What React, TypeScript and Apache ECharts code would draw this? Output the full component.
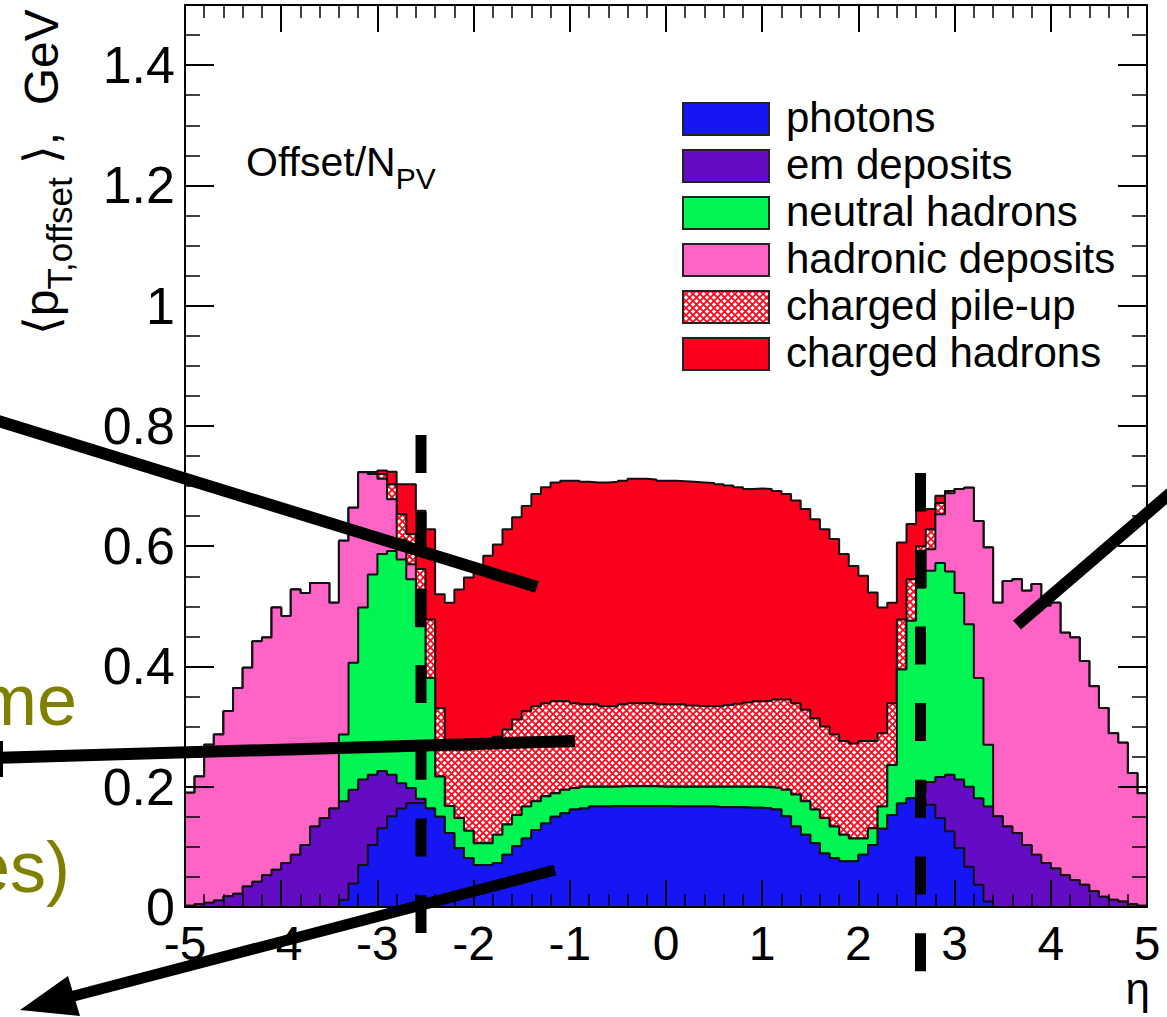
import React, { useEffect, useRef } from 'react';
import * as echarts from 'echarts';

// Histogram binning in eta
const ETA_MIN = -5;
const ETA_MAX = 5;
const BIN_WIDTH = 0.1;
const N_BINS = 100;

// Mean offset pT per pile-up vertex, split by particle type (GeV), 100 bins in eta
const photons = [
  0, 0, 0, 0, 0, 0, 0, 0, 0, 0,
  0, 0, 0, 0, 0, 0, 0.012, 0.039, 0.07, 0.103,
  0.131, 0.151, 0.164, 0.173, 0.173, 0.164, 0.15, 0.123, 0.098, 0.081,
  0.07, 0.07, 0.073, 0.087, 0.101, 0.114, 0.128, 0.139, 0.15, 0.156,
  0.162, 0.164, 0.167, 0.167, 0.168, 0.168, 0.168, 0.168, 0.168, 0.168,
  0.167, 0.167, 0.167, 0.167, 0.167, 0.166, 0.166, 0.166, 0.165, 0.165,
  0.164, 0.162, 0.151, 0.134, 0.12, 0.106, 0.089, 0.081, 0.076, 0.076,
  0.087, 0.103, 0.13, 0.153, 0.172, 0.181, 0.18, 0.17, 0.148, 0.126,
  0.098, 0.067, 0.037, 0.009, 0, 0, 0, 0, 0, 0,
  0, 0, 0, 0, 0, 0, 0, 0, 0, 0,
];

const emDeposits = [
  0.002, 0.005, 0.007, 0.011, 0.018, 0.022, 0.034, 0.042, 0.053, 0.062,
  0.073, 0.087, 0.103, 0.134, 0.148, 0.164, 0.164, 0.156, 0.142, 0.117,
  0.095, 0.069, 0.042, 0.025, 0.007, 0, 0, 0, 0, 0,
  0, 0, 0, 0, 0, 0, 0, 0, 0, 0,
  0, 0, 0, 0, 0, 0, 0, 0, 0, 0,
  0, 0, 0, 0, 0, 0, 0, 0, 0, 0,
  0, 0, 0, 0, 0, 0, 0, 0, 0, 0,
  0, 0, 0, 0, 0, 0, 0.01, 0.038, 0.068, 0.094,
  0.114, 0.133, 0.144, 0.158, 0.151, 0.134, 0.123, 0.103, 0.087, 0.073,
  0.064, 0.053, 0.045, 0.037, 0.026, 0.017, 0.012, 0.009, 0.005, 0.002,
];

const neutralHadrons = [
  0, 0, 0, 0, 0, 0, 0, 0, 0, 0,
  0, 0, 0, 0, 0, 0, 0.111, 0.211, 0.286, 0.333,
  0.361, 0.372, 0.372, 0.347, 0.287, 0.217, 0.067, 0.045, 0.05, 0.046,
  0.036, 0.036, 0.047, 0.05, 0.052, 0.053, 0.048, 0.045, 0.039, 0.039,
  0.036, 0.036, 0.033, 0.033, 0.032, 0.033, 0.033, 0.033, 0.033, 0.032,
  0.033, 0.033, 0.033, 0.033, 0.033, 0.034, 0.034, 0.034, 0.035, 0.035,
  0.035, 0.036, 0.044, 0.053, 0.056, 0.056, 0.059, 0.053, 0.044, 0.038,
  0.027, 0.028, 0.037, 0.083, 0.223, 0.295, 0.341, 0.351, 0.356, 0.338,
  0.31, 0.27, 0.2, 0.103, 0, 0, 0, 0, 0, 0,
  0, 0, 0, 0, 0, 0, 0, 0, 0, 0,
];

const hadronicDeposits = [
  0.188, 0.212, 0.263, 0.276, 0.308, 0.342, 0.364, 0.4, 0.395, 0.436,
  0.411, 0.441, 0.419, 0.405, 0.391, 0.342, 0.322, 0.258, 0.225, 0.167,
  0.125, 0.086, 0.033, 0.025, 0.003, 0, 0, 0, 0, 0,
  0, 0, 0, 0, 0, 0, 0, 0, 0, 0,
  0, 0, 0, 0, 0, 0, 0, 0, 0, 0,
  0, 0, 0, 0, 0, 0, 0, 0, 0, 0,
  0, 0, 0, 0, 0, 0, 0, 0, 0, 0,
  0, 0, 0, 0, 0, 0, 0.004, 0.036, 0.081, 0.13,
  0.173, 0.227, 0.261, 0.328, 0.355, 0.408, 0.422, 0.423, 0.45, 0.428,
  0.442, 0.403, 0.403, 0.372, 0.341, 0.314, 0.277, 0.264, 0.218, 0.187,
];

const chargedPileUp = [
  0, 0, 0, 0, 0, 0, 0, 0, 0, 0,
  0, 0, 0, 0, 0, 0, 0, 0, 0, 0.002,
  0.008, 0.025, 0.042, 0.05, 0.092, 0.097, 0.114, 0.097, 0.114, 0.135,
  0.159, 0.166, 0.163, 0.158, 0.159, 0.159, 0.158, 0.155, 0.153, 0.147,
  0.141, 0.137, 0.137, 0.134, 0.134, 0.136, 0.138, 0.138, 0.138, 0.137,
  0.137, 0.137, 0.135, 0.134, 0.134, 0.134, 0.136, 0.138, 0.14, 0.142,
  0.144, 0.147, 0.15, 0.152, 0.152, 0.152, 0.152, 0.153, 0.156, 0.158,
  0.162, 0.145, 0.122, 0.103, 0.083, 0.069, 0.065, 0.033, 0.019, 0.004,
  0, 0, 0, 0, 0, 0, 0, 0, 0, 0,
  0, 0, 0, 0, 0, 0, 0, 0, 0, 0,
];

const chargedHadrons = [
  0, 0, 0, 0, 0, 0, 0, 0, 0, 0,
  0, 0, 0, 0, 0, 0, 0, 0, 0, 0.002,
  0.006, 0.021, 0.05, 0.083, 0.097, 0.15, 0.189, 0.241, 0.266, 0.286,
  0.299, 0.312, 0.32, 0.333, 0.336, 0.341, 0.353, 0.359, 0.364, 0.367,
  0.37, 0.37, 0.369, 0.372, 0.373, 0.372, 0.373, 0.373, 0.372, 0.372,
  0.372, 0.371, 0.372, 0.372, 0.371, 0.369, 0.365, 0.36, 0.355, 0.354,
  0.352, 0.347, 0.342, 0.337, 0.334, 0.331, 0.328, 0.325, 0.311, 0.295,
  0.275, 0.247, 0.209, 0.167, 0.128, 0.092, 0.059, 0.034, 0.012, 0,
  0, 0, 0, 0, 0, 0, 0, 0, 0, 0,
  0, 0, 0, 0, 0, 0, 0, 0, 0, 0,
];

// Stack order, bottom to top
const layerNames = [
  'photons',
  'em deposits',
  'neutral hadrons',
  'hadronic deposits',
  'charged pile-up',
  'charged hadrons',
];
const layerValues = [photons, emDeposits, neutralHadrons, hadronicDeposits, chargedPileUp, chargedHadrons];
const layerColors = ['#1616f4', '#640cc3', '#00f552', '#ff63c6', null, '#fa001c'];
const HATCH_INDEX = 4;

const yLabelMax = 1.4;

const FONT = '"Liberation Sans", Arial, Helvetica, "DejaVu Sans", sans-serif';
const CENTRAL = 0.3465; // distance from the alphabetic baseline to the central baseline, in em

// red cross-hatch on white, tiled
function makeHatch(): HTMLCanvasElement {
  const s = 7;
  const c = document.createElement('canvas');
  c.width = s;
  c.height = s;
  const g = c.getContext('2d')!;
  g.fillStyle = '#ffffff';
  g.fillRect(0, 0, s, s);
  g.strokeStyle = '#ff0a1e';
  g.lineWidth = 1.9;
  g.beginPath();
  g.moveTo(-1, -1);
  g.lineTo(s + 1, s + 1);
  g.moveTo(-1, s + 1);
  g.lineTo(s + 1, -1);
  g.stroke();
  return c;
}

function measure(text: string, size: number): number {
  const ctx = document.createElement('canvas').getContext('2d')!;
  ctx.font = `${size}px ${FONT}`;
  return ctx.measureText(text).width;
}

// A text piece placed by its alphabetic baseline
function baselineText(text: string, x: number, baseline: number, size: number, fill = '#000', align = 'left') {
  return {
    type: 'text',
    x,
    y: baseline - CENTRAL * size,
    z: 100,
    style: { text, fontSize: size, fontFamily: FONT, fill, align, verticalAlign: 'middle' },
  };
}

export default function App() {
  const ref = useRef<HTMLDivElement>(null);

  useEffect(() => {
    const el = ref.current;
    if (!el) return;
    const chart = echarts.init(el, null, { renderer: 'svg' });

    const hatch = makeHatch();
    const hatchFill: any = { image: hatch, repeat: 'repeat', imageWidth: 7, imageHeight: 7 };
    const fills = layerColors.map((c, i) => (i === HATCH_INDEX ? hatchFill : c));

    // bin edges; each bin value is held from its left edge to the next edge
    const edges = Array.from({ length: N_BINS + 1 }, (_, i) => (ETA_MIN + i * BIN_WIDTH).toFixed(1));

    const series = layerValues.map((vals, k) => ({
      type: 'line',
      name: layerNames[k],
      stack: 'offset',
      step: 'end',
      xAxisIndex: 0,
      yAxisIndex: 0,
      data: [...vals, vals[vals.length - 1]],
      symbol: 'none',
      showSymbol: false,
      silent: true,
      z: 12 - k,
      lineStyle: { color: '#111', width: 2 },
      areaStyle: { color: fills[k], opacity: 1 },
      emphasis: { disabled: true },
    }));

    const xAxisBase = {
      type: 'value',
      min: ETA_MIN,
      max: ETA_MAX,
      interval: 1,
      z: 30,
      axisLine: { show: true, onZero: false, lineStyle: { color: '#000', width: 2 } },
      axisTick: { show: true, inside: true, length: 27, lineStyle: { color: '#000', width: 2 } },
      minorTick: { show: true, splitNumber: 5, length: 13, lineStyle: { color: '#000', width: 1.5 } },
      splitLine: { show: false },
      minorSplitLine: { show: false },
    };

    const yMajor = (position: string, labels: boolean) => ({
      type: 'value',
      position,
      min: 0,
      max: 1.5,
      interval: 0.2,
      z: 30,
      axisLine: { show: true, onZero: false, lineStyle: { color: '#000', width: 2 } },
      axisTick: { show: true, inside: true, length: 29, lineStyle: { color: '#000', width: 2 } },
      axisLabel: {
        show: labels,
        fontSize: 52,
        fontFamily: FONT,
        color: '#000',
        margin: 10,
        formatter: (v: number) => (v > yLabelMax + 0.05 ? '' : String(Math.round(v * 10) / 10)),
      },
      splitLine: { show: false },
    });

    const yMinor = (position: string) => ({
      type: 'value',
      position,
      min: 0,
      max: 1.5,
      interval: 0.05,
      z: 30,
      axisLine: { show: false, onZero: false },
      axisTick: { show: true, inside: true, length: 15, lineStyle: { color: '#000', width: 1.5 } },
      axisLabel: { show: false },
      splitLine: { show: false },
    });

    // legend
    const legendRows = layerNames
      .map((name, k) => {
        const top = 103 + 47 * k;
        return [
          {
            type: 'rect',
            z: 100,
            shape: { x: 683, y: top, width: 86, height: 32 },
            style: { fill: fills[k], stroke: '#222', lineWidth: 2 },
          },
          baselineText(name, 786, top + 29, 42),
        ];
      })
      .flat();

    // y-axis title, laid out along a rotated baseline
    const titleMain = 48;
    const titleSub = 35;
    const w1 = measure('\u27E8p', titleMain);
    const w2 = measure('T,offset', titleSub);
    const w3 = measure(' ', titleMain);
    const titleGroup = {
      type: 'group',
      x: 58,
      y: 335,
      rotation: Math.PI / 2,
      z: 100,
      children: [
        { ...baselineText('\u27E8p', 0, 0, titleMain) },
        { ...baselineText('T,offset', w1, 14, titleSub) },
        { ...baselineText('\u27E9,  GeV', w1 + w2 + w3, 0, titleMain) },
      ],
    };

    // Offset/N_PV
    const offW = measure('Offset/N', 41);

    const thick = { stroke: '#000', lineWidth: 12, lineCap: 'butt' };
    const dashed = { stroke: '#000', lineWidth: 11, lineDash: [38, 38.7], lineCap: 'butt' };

    const elements: any[] = [
      titleGroup,
      baselineText('Offset/N', 246, 176, 41),
      baselineText('PV', 246 + offW, 189, 30),
      ...legendRows,
      baselineText('\u03B7', 1150, 1004, 44, '#000', 'right'),
      // slide text fragments on the left edge
      baselineText('me', 77, 725, 72, '#7f7f00', 'right'),
      baselineText('es)', 70, 892, 72, '#7f7f00', 'right'),
      // pointer lines
      { type: 'line', z: 100, shape: { x1: -5, y1: 420, x2: 537, y2: 587 }, style: thick },
      { type: 'line', z: 100, shape: { x1: -5, y1: 758, x2: 575, y2: 741 }, style: thick },
      { type: 'line', z: 100, shape: { x1: 1180, y1: 485, x2: 1017, y2: 625 }, style: thick },
      { type: 'line', z: 100, shape: { x1: 555, y1: 870, x2: 70, y2: 997 }, style: { stroke: '#000', lineWidth: 11, lineCap: 'butt' } },
      { type: 'polygon', z: 100, shape: { points: [[20, 1010], [68, 976], [80, 1016]] }, style: { fill: '#000' } },
      { type: 'rect', z: 100, shape: { x: 0, y: 741, width: 3, height: 36 }, style: { fill: '#000' } },
      // dashed eta boundaries
      { type: 'line', z: 100, shape: { x1: 421, y1: 435, x2: 421, y2: 933 }, style: dashed },
      { type: 'line', z: 100, shape: { x1: 920.5, y1: 473, x2: 920.5, y2: 972 }, style: dashed },
    ];

    chart.setOption({
      animation: false,
      backgroundColor: '#fff',
      textStyle: { fontFamily: FONT },
      grid: { left: 185, top: 5, width: 962, height: 902, containLabel: false },
      xAxis: [
        { type: 'category', data: edges, boundaryGap: false, show: false },
        {
          ...xAxisBase,
          position: 'bottom',
          axisLabel: { show: true, fontSize: 48, fontFamily: FONT, color: '#000', margin: 12 },
        },
        { ...xAxisBase, position: 'top', axisLabel: { show: false } },
      ],
      yAxis: [yMajor('left', true), yMinor('left'), yMajor('right', false), yMinor('right')],
      series,
      graphic: { elements },
    });

    return () => chart.dispose();
  }, []);

  return (
    <div
      ref={ref}
      style={{ position: 'fixed', left: 0, top: 0, width: 1167, height: 1017, background: '#fff' }}
    />
  );
}
